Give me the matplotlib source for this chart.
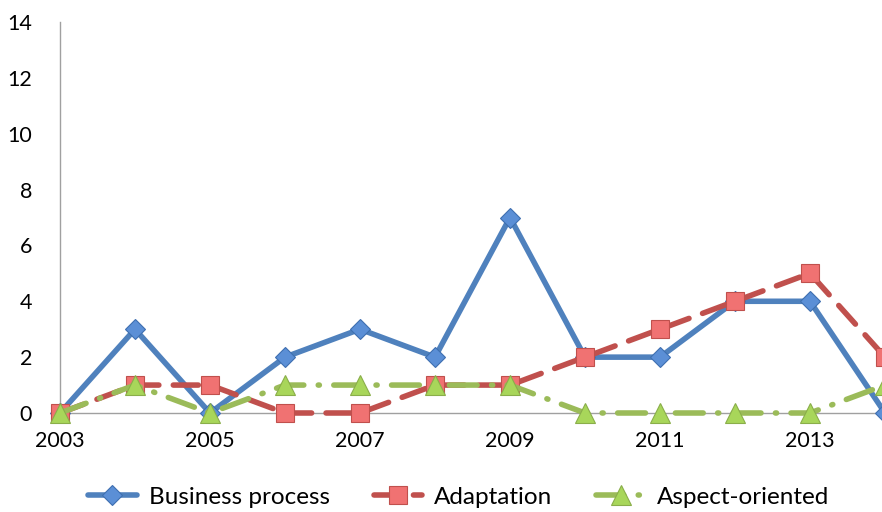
import matplotlib
matplotlib.use("Agg")
import matplotlib.pyplot as plt

years = [2003, 2004, 2005, 2006, 2007, 2008, 2009, 2010, 2011, 2012, 2013, 2014]
business = [0, 3, 0, 2, 3, 2, 7, 2, 2, 4, 4, 0]
adaptation = [0, 1, 1, 0, 0, 1, 1, 2, 3, 4, 5, 2]
aspect = [0, 1, 0, 1, 1, 1, 1, 0, 0, 0, 0, 1]
xtick_years = [2003, 2005, 2007, 2009, 2011, 2013]
yticks = [0, 2, 4, 6, 8, 10, 12, 14]

plt.rcParams['font.family'] = ['Lato', 'DejaVu Sans']

fig = plt.figure(figsize=(8.82, 5.12), dpi=100)
ax = fig.add_axes([60/882, 99/512, 822/882, 391/512])

lw = 4.0
ax.plot(years, business, color='#4F81BD', lw=lw, solid_capstyle='round',
        marker='D', markersize=10, markerfacecolor='#5B8FD6', markeredgecolor='#3E6FB0',
        markeredgewidth=0.8, label='Business process', zorder=3)
ax.plot(years, adaptation, color='#C0504D', lw=lw, dashes=(4.5, 2.6), dash_capstyle='round',
        marker='s', markersize=13, markerfacecolor='#F07272', markeredgecolor='#C0504D',
        markeredgewidth=0.8, label='Adaptation', zorder=4)
ax.plot(years, aspect, color='#9BBB59', lw=lw, dashes=(5, 2.6, 0.2, 2.6), dash_capstyle='round',
        marker='^', markersize=14, markerfacecolor='#A8D65A', markeredgecolor='#8AAE4A',
        markeredgewidth=0.8, label='Aspect-oriented', zorder=5)

ax.set_xlim(2003, 2003 + 822/75)
ax.set_ylim(0, 14)
ax.set_yticks(yticks)
ax.set_xticks(xtick_years)
ax.tick_params(axis='both', length=0, labelsize=15.5)
ax.tick_params(axis='x', pad=13)
ax.tick_params(axis='y', pad=20)
for s in ['top', 'right']:
    ax.spines[s].set_visible(False)
for s in ['left', 'bottom']:
    ax.spines[s].set_color('#A0A0A0')
    ax.spines[s].set_linewidth(1.0)
for m in ax.get_lines():
    m.set_clip_on(False)

leg = fig.legend(loc='center', bbox_to_anchor=(0.52, 15/512), ncol=3, frameon=False,
                 fontsize=17.5, handlelength=2.0, columnspacing=1.8, handletextpad=0.5)

fig.savefig('out.png', dpi=100)
